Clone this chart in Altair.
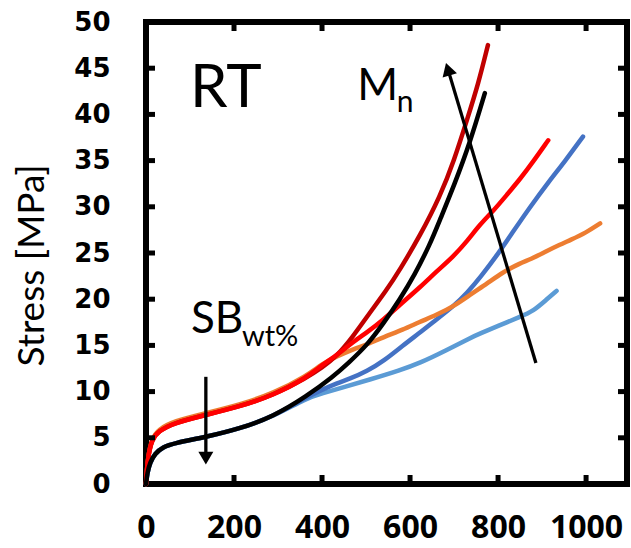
import altair as alt
import pandas as pd

# ---------------- data ----------------
lightblue_strain = [0, 3, 9, 20, 39, 62, 138, 214, 289, 365, 400, 450, 509, 577, 623, 680, 736, 760, 800, 850, 880, 911, 933]
lightblue_stress = [0, 1.2, 2.3, 3.3, 4.0, 4.4, 5.1, 6.0, 7.3, 9.3, 9.8, 10.5, 11.3, 12.3, 13.1, 14.4, 15.8, 16.3, 17.1, 18.1, 18.7, 20.0, 20.9]

blue_strain = [0, 3, 9, 20, 39, 62, 138, 214, 289, 365, 400, 433, 464, 502, 540, 584, 620, 652, 698, 730, 760, 800, 834, 870, 918, 950, 993]
blue_stress = [0, 1.2, 2.3, 3.3, 4.0, 4.4, 5.1, 6.0, 7.3, 9.4, 10.2, 10.9, 11.4, 12.2, 13.3, 15.0, 16.3, 17.5, 19.2, 20.7, 22.4, 24.9, 27.3, 29.8, 32.9, 34.8, 37.6]

orange_strain = [0, 2, 5, 13, 28, 62, 138, 214, 289, 365, 400, 433, 471, 502, 540, 584, 620, 660, 698, 740, 775, 810, 850, 873, 910, 940, 964, 1000, 1032]
orange_stress = [0, 1.5, 3.0, 4.9, 5.9, 6.8, 7.7, 8.6, 9.8, 11.7, 13.0, 13.8, 14.6, 15.1, 15.9, 16.7, 17.5, 18.3, 19.2, 20.6, 21.7, 22.9, 23.9, 24.3, 25.2, 25.9, 26.4, 27.2, 28.2]

darkred_strain = [0, 2, 5, 13, 28, 62, 138, 214, 289, 365, 400, 433, 471, 502, 547, 577, 623, 668, 700, 730, 755, 777]
darkred_stress = [0, 1.5, 3.0, 4.8, 5.7, 6.6, 7.5, 8.4, 9.6, 11.5, 12.6, 13.8, 16.0, 18.1, 21.0, 23.2, 26.9, 31.1, 35.0, 39.5, 43.3, 47.5]

red_strain = [0, 2, 5, 13, 28, 62, 138, 214, 289, 365, 400, 433, 471, 502, 540, 577, 623, 660, 698, 730, 759, 790, 820, 850, 880, 914]
red_stress = [0, 1.5, 3.0, 4.8, 5.7, 6.6, 7.5, 8.4, 9.6, 11.5, 12.9, 13.9, 15.4, 16.4, 17.8, 19.4, 21.3, 23.0, 24.6, 26.3, 28.1, 29.6, 31.3, 33.0, 34.9, 37.2]

black_strain = [0, 3, 9, 20, 39, 62, 138, 214, 289, 365, 425, 460, 502, 540, 577, 610, 645, 668, 700, 736, 770]
black_stress = [0, 1.2, 2.3, 3.3, 4.0, 4.4, 5.1, 6.0, 7.3, 9.5, 11.6, 13.1, 15.0, 17.4, 20.0, 22.6, 25.9, 28.6, 32.3, 36.9, 42.3]

series_names = ["lightblue", "blue", "orange", "darkred", "red", "black"]
series_colors = ["#5b9bd5", "#4472c4", "#ed7d31", "#c00000", "#ff0000", "#000000"]
series_strain = [lightblue_strain, blue_strain, orange_strain, darkred_strain, red_strain, black_strain]
series_stress = [lightblue_stress, blue_stress, orange_stress, darkred_stress, red_stress, black_stress]

x_ticks = [0, 200, 400, 600, 800, 1000]
y_ticks = [0, 5, 10, 15, 20, 25, 30, 35, 40, 45, 50]
x_inner_ticks = [200, 400, 600, 800, 1000]
y_inner_ticks = [5, 10, 15, 20, 25, 30, 35, 40, 45]

# arrows: tail (x, y) -> head centre (x2, y2), head angle and shape
arrow_x = [886, 136]
arrow_y = [13.1, 11.6]
arrow_x2 = [686, 136]
arrow_y2 = [44.9, 2.8]
arrow_angle = [343, 0]
arrow_shape = ["triangle-up", "triangle-down"]

# annotation texts
text_labels = ["RT", "M", "n", "SB", "wt%"]
text_x = [100, 480, 570, 102, 218]
text_y = [40.8, 41.6, 40.3, 16.3, 14.9]
text_sizes = [60, 44, 30, 44, 29]

# ---------------- chart ----------------
W, H = 481, 462
XMAX = 1093

xs = alt.Scale(domain=[0, XMAX], nice=False, zero=False)
ys = alt.Scale(domain=[0, 50], nice=False, zero=False)

x_axis = alt.Axis(values=x_ticks, format="d", labelFont="Open Sans", labelFontWeight="bold",
                  labelFontSize=32, labelColor="black", domain=False, ticks=False,
                  tickSize=0, grid=False, title=None, labelPadding=28,
                  labelFlush=False, labelOverlap=False)
y_axis = alt.Axis(values=y_ticks, format="d", labelFont="DejaVu Sans", labelFontWeight="bold",
                  labelFontSize=26, labelColor="black", domain=False, ticks=False,
                  tickSize=0, grid=False, labelPadding=36, labelFlush=False,
                  labelOverlap=False, title="Stress [MPa]", titleFont="Lato",
                  titleFontSize=37, titleFontWeight="normal", titleColor="black",
                  titleX=-103, titleY=243, titleBaseline="alphabetic", titleAngle=270)


def X(field):
    return alt.X(field, scale=xs, axis=x_axis)


def Y(field):
    return alt.Y(field, scale=ys, axis=y_axis)


layers = []
for name, col, sx, sy in zip(series_names, series_colors, series_strain, series_stress):
    df = pd.DataFrame({"strain": sx, "stress": sy, "order": list(range(len(sx)))})
    layers.append(
        alt.Chart(df).mark_line(color=col, strokeWidth=4.5, interpolate="basis",
                                strokeCap="round", strokeJoin="round").encode(
            x=X("strain:Q"), y=Y("stress:Q"), order="order:Q")
    )

xt = pd.DataFrame({"v": x_inner_ticks})
yt = pd.DataFrame({"v": y_inner_ticks})
TL = 9
tick_layers = [
    alt.Chart(xt).mark_rule(color="black", strokeWidth=5).encode(
        x=X("v:Q"), y=alt.value(H), y2=alt.value(H - TL)),
    alt.Chart(xt).mark_rule(color="black", strokeWidth=5).encode(
        x=X("v:Q"), y=alt.value(0), y2=alt.value(TL)),
    alt.Chart(yt).mark_rule(color="black", strokeWidth=5).encode(
        y=Y("v:Q"), x=alt.value(0), x2=alt.value(TL)),
    alt.Chart(yt).mark_rule(color="black", strokeWidth=5).encode(
        y=Y("v:Q"), x=alt.value(W), x2=alt.value(W - TL)),
]

adf = pd.DataFrame({"x": arrow_x, "y": arrow_y, "x2": arrow_x2, "y2": arrow_y2,
                    "angle": arrow_angle, "shape": arrow_shape})
arrow_lines = alt.Chart(adf).mark_rule(color="black", strokeWidth=3.3).encode(
    x=X("x:Q"), y=Y("y:Q"), x2="x2:Q", y2="y2:Q")
arrow_heads = alt.Chart(adf).mark_point(filled=True, color="black", opacity=1, size=225).encode(
    x=X("x2:Q"), y=Y("y2:Q"),
    angle=alt.Angle("angle:Q", scale=None),
    shape=alt.Shape("shape:N", scale=None, legend=None))

tdf = pd.DataFrame({"label": text_labels, "x": text_x, "y": text_y, "size": text_sizes})
texts = alt.Chart(tdf).mark_text(font="Lato", align="left", baseline="alphabetic",
                                 color="black").encode(
    x=X("x:Q"), y=Y("y:Q"),
    text="label:N", size=alt.Size("size:Q", scale=None, legend=None))

chart = alt.layer(*layers, *tick_layers, arrow_lines, arrow_heads, texts).properties(
    width=W, height=H,
    autosize=alt.AutoSizeParams(type="none"),
    padding={"left": 146, "top": 22, "right": 4, "bottom": 64},
    background="white",
).configure_view(stroke="black", strokeWidth=6)

chart.save("out.html", embed_options={"renderer": "svg", "actions": False})
